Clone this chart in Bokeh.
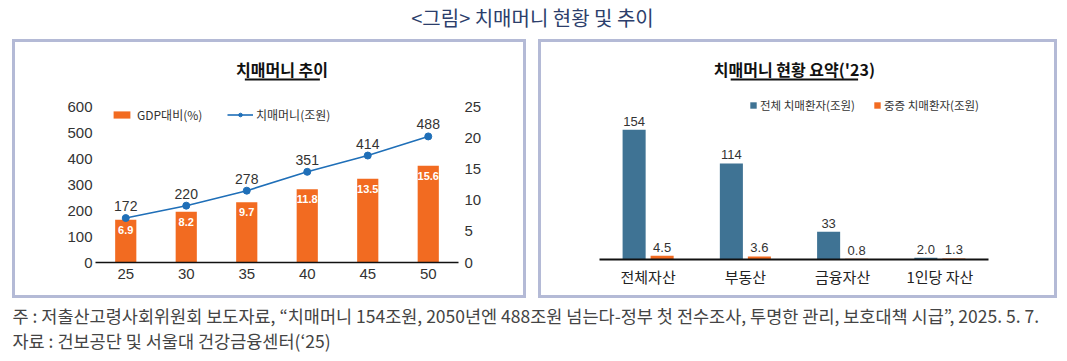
from bokeh.plotting import figure
from bokeh.models import (ColumnDataSource, FactorRange, Range1d, LinearAxis, Legend, LegendItem,
                          Label, BoxAnnotation, FixedTicker)
from bokeh.layouts import column, row
from bokeh.transform import dodge
from bokeh.core.properties import value
from bokeh.embed import file_html
from bokeh.resources import INLINE

# ---------------- data ----------------
years = ["25", "30", "35", "40", "45", "50"]
money = [172, 220, 278, 351, 414, 488]          # 치매머니(조원)
gdp_pct = [6.9, 8.2, 9.7, 11.8, 13.5, 15.6]     # GDP대비(%)
left_ticks = [0, 100, 200, 300, 400, 500, 600]
right_ticks = [0, 5, 10, 15, 20, 25]

assets = ["전체자산", "부동산", "금융자산", "1인당 자산"]
total_pat = [154, 114, 33, 2.0]                 # 전체 치매환자(조원)
severe_pat = [4.5, 3.6, 0.8, 1.3]               # 중증 치매환자(조원)

main_title = "<그림> 치매머니 현황 및 추이"
left_title = "치매머니 추이"
right_title = "치매머니 현황 요약('23)"
note1 = "주 : 저출산고령사회위원회 보도자료, “치매머니 154조원, 2050년엔 488조원 넘는다-정부 첫 전수조사, 투명한 관리, 보호대책 시급”, 2025. 5. 7."
note2 = "자료 : 건보공단 및 서울대 건강금융센터(‘25)"

# ---------------- styles ----------------
KR = "Noto Sans CJK KR"
NUM = "Liberation Sans"
NARROW = "Liberation Sans Narrow, Liberation Sans"
ORANGE = "#f26b21"
LBLUE = "#1f6fb8"
RBLUE = "#3f7394"
BORDER = "#b4bad6"
TXT = "#333333"


def blank(w, h):
    p = figure(width=w, height=h, output_backend="svg", toolbar_location=None, min_border=0,
               x_range=Range1d(0, w), y_range=Range1d(h, 0),
               x_axis_location=None, y_axis_location=None)
    p.grid.visible = False
    p.outline_line_color = None
    return p


def title_fig(w, h, text, cx, ul_l, ul_r):
    p = blank(w, h)
    p.add_layout(Label(x=cx, y=26, text=text, text_align="center", text_baseline="middle",
                       text_font=KR, text_font_size="16px", text_font_style="bold",
                       text_color="#111111"))
    p.add_layout(BoxAnnotation(left=ul_l, right=ul_r, top=36, bottom=38,
                               fill_color="#111111", fill_alpha=1, line_color=None))
    return p


# ---------------- top title ----------------
pt = blank(1067, 39)
pt.add_layout(Label(x=532, y=17, text=main_title, text_align="center", text_baseline="middle",
                    text_font=KR, text_font_size="20px", text_color="#2c3e6b"))

# ---------------- left chart ----------------
LW, LH = 508, 202
pl = figure(width=LW, height=LH, x_range=FactorRange(*years), y_range=Range1d(0, 634.8),
            output_backend="svg", toolbar_location=None,
            min_border_left=80, min_border_right=65, min_border_top=5, min_border_bottom=33)
pl.extra_y_ranges = {"gdp": Range1d(0, 26.45)}
pl.outline_line_color = None
pl.grid.visible = False

srcl = ColumnDataSource(dict(year=years, money=money, gdp=gdp_pct,
                             money_lbl=[str(v) for v in money],
                             gdp_lbl=[f"{v:.1f}" for v in gdp_pct]))
bars = pl.vbar(x="year", top="gdp", width=0.35, y_range_name="gdp", source=srcl,
               fill_color=ORANGE, line_color=None)
ln = pl.line(x="year", y="money", source=srcl, line_color=LBLUE, line_width=1.6)
pts = pl.scatter(x="year", y="money", source=srcl, size=7, fill_color=LBLUE, line_color=LBLUE)
pl.text(x="year", y="money", text="money_lbl", source=srcl, text_align="center",
        text_baseline="bottom", y_offset=-7, text_font=value(NUM), text_font_size="14px",
        text_color=TXT)
pl.text(x="year", y="gdp", text="gdp_lbl", y_range_name="gdp", source=srcl, text_align="center",
        text_baseline="top", y_offset=6, text_font=value(NUM), text_font_size="11px",
        text_font_style="bold", text_color="white")

pl.yaxis.ticker = FixedTicker(ticks=left_ticks)
raxis = LinearAxis(y_range_name="gdp", ticker=FixedTicker(ticks=right_ticks))
pl.add_layout(raxis, "right")
for ax, so in ((pl.yaxis[0], 3), (raxis, 6)):
    ax.axis_line_color = None
    ax.major_tick_line_color = None
    ax.minor_tick_line_color = None
    ax.major_tick_in = 0
    ax.major_tick_out = 0
    ax.major_label_standoff = so
    ax.major_label_text_font = NUM
    ax.major_label_text_font_size = "15px"
    ax.major_label_text_color = TXT
xa = pl.xaxis[0]
xa.axis_line_color = "#111111"
xa.axis_line_width = 1.5
xa.major_tick_line_color = None
xa.major_tick_in = 0
xa.major_tick_out = 0
xa.major_label_standoff = 6
xa.major_label_text_font = NUM
xa.major_label_text_font_size = "15px"
xa.major_label_text_color = TXT

lg_kw = dict(padding=0, margin=0, border_line_color=None, background_fill_alpha=0,
             label_text_font=KR, label_text_color=TXT)
pl.add_layout(Legend(items=[LegendItem(label="GDP대비(%)", renderers=[bars])],
                     location=(16, 139), glyph_width=21, glyph_height=9, label_standoff=5,
                     label_text_font_size="12px", **lg_kw))
pl.add_layout(Legend(items=[LegendItem(label="치매머니(조원)", renderers=[ln, pts])],
                     location=(132, 139), glyph_width=26, glyph_height=9, label_standoff=3,
                     label_text_font_size="12px", **lg_kw))

left_panel = column(title_fig(LW, 51, left_title, 261, 209, 314), pl,
                    styles={"border": f"3px solid {BORDER}", "background": "white"},
                    margin=(0, 0, 0, 12))

# ---------------- right chart ----------------
RW, RH = 513, 202
pr = figure(width=RW, height=RH, x_range=FactorRange(*assets), y_range=Range1d(0, 195.7),
            output_backend="svg", toolbar_location=None,
            min_border_left=58, min_border_right=66, min_border_top=1, min_border_bottom=36)
pr.outline_line_color = None
pr.grid.visible = False
pr.yaxis.visible = False

fmt = lambda v: f"{v:.0f}" if v >= 10 else f"{v:.1f}"
srcr = ColumnDataSource(dict(cat=assets, total=total_pat, severe=severe_pat,
                             tl=[fmt(v) for v in total_pat], sl=[fmt(v) for v in severe_pat]))
b1 = pr.vbar(x=dodge("cat", -0.144, range=pr.x_range), top="total", width=0.237, source=srcr,
             fill_color=RBLUE, line_color=None)
b2 = pr.vbar(x=dodge("cat", 0.144, range=pr.x_range), top="severe", width=0.237, source=srcr,
             fill_color=ORANGE, line_color=None)
for off, col, ycol in ((-0.144, "tl", "total"), (0.144, "sl", "severe")):
    pr.text(x=dodge("cat", off, range=pr.x_range), y=ycol, text=col, source=srcr,
            text_align="center", text_baseline="bottom", y_offset=-4,
            text_font=value(NARROW), text_font_size="13px", text_color=TXT)

xr = pr.xaxis[0]
xr.axis_line_color = "#111111"
xr.axis_line_width = 2
xr.major_tick_line_color = None
xr.major_tick_in = 0
xr.major_tick_out = 0
xr.major_label_standoff = 6
xr.major_label_text_font = KR
xr.major_label_text_font_size = "15px"
xr.major_label_text_color = "#222222"

pr.add_layout(Legend(items=[LegendItem(label="전체 치매환자(조원)", renderers=[b1])],
                     location=(150, 146), glyph_width=8, glyph_height=8, label_standoff=3,
                     label_text_font_size="11.5px", **lg_kw))
pr.add_layout(Legend(items=[LegendItem(label="중증 치매환자(조원)", renderers=[b2])],
                     location=(274, 146), glyph_width=8, glyph_height=8, label_standoff=3,
                     label_text_font_size="11.5px", **lg_kw))

right_panel = column(title_fig(RW, 51, right_title, 257, 173, 341), pr,
                     styles={"border": f"3px solid {BORDER}", "background": "white"},
                     margin=(0, 0, 0, 12))

# ---------------- footnotes ----------------
pb = blank(1067, 63)
for yy, t in ((17, note1), (42, note2)):
    pb.add_layout(Label(x=12, y=yy, text=t, text_align="left", text_baseline="middle",
                        text_font=KR, text_font_size="17.5px", text_color="#444444"))

layout = column(pt, row(left_panel, right_panel), pb)
open("out.html", "w").write(file_html(layout, INLINE))
